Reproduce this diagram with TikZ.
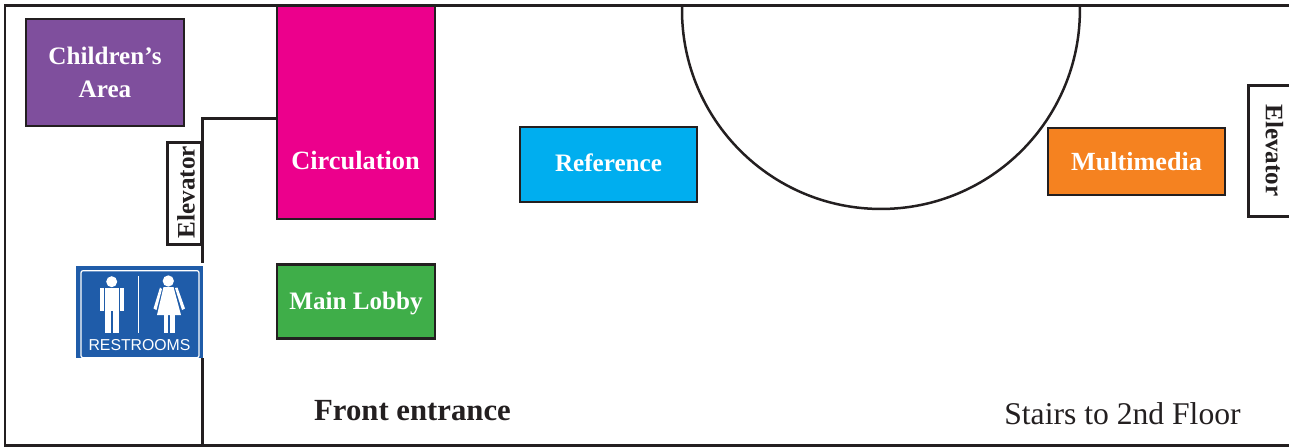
\documentclass[tikz,border=0pt]{standalone}
\usepackage{fontspec}
\setmainfont{Liberation Serif}
\newfontfamily\signfont{Liberation Sans}
\usetikzlibrary{positioning}
\definecolor{inkline}{HTML}{231F20}
\definecolor{kidspurple}{HTML}{7F4F9D}
\definecolor{circpink}{HTML}{EC008C}
\definecolor{refblue}{HTML}{00AEEF}
\definecolor{mediaorange}{HTML}{F58220}
\definecolor{lobbygreen}{HTML}{3FAE49}
\definecolor{signblue}{HTML}{1F5CA9}
\tikzset{
  x=0.02cm,
  y=-0.02cm,
  wall/.style={draw=inkline, line width=0.06cm},
  room/.style={draw=inkline, line width=0.056cm, inner sep=0pt, text=white, font=\fontsize{14.3}{18.7}\selectfont\bfseries, align=center},
  roomtext/.style={inner sep=0pt, text=white, font=\fontsize{14.3}{18.7}\selectfont\bfseries},
  lifttext/.style={inner sep=0pt, text=inkline, font=\fontsize{14.3}{18.7}\selectfont\bfseries},
  pictogram/.style={fill=white, draw=none},
}

\begin{document}
\begin{tikzpicture}
  \useasboundingbox (0,0) rectangle (1289,447);

  % rooms
  \node[room, fill=kidspurple, minimum width=3.16cm, minimum height=2.14cm] (kids) at (105,72.5) {Children’s\\Area};
  \node[room, fill=circpink, minimum width=3.16cm, minimum height=4.28cm] (circ) at (356,112) {};
  \node[roomtext, font=\fontsize{15}{18.7}\selectfont\bfseries] (circtext) at (355.5,161) {Circulation};
  \node[room, fill=lobbygreen, minimum width=3.16cm, minimum height=1.47cm, below=0.86cm of circ] (lobby) {};
  \node[roomtext] (lobbytext) at (356,303) {Main Lobby};
  \node[room, fill=refblue, minimum width=3.54cm, minimum height=1.5cm] (ref) at (608.5,164.5) {};
  \node[roomtext] (reftext) at (608.5,163) {Reference};
  \node[room, fill=mediaorange, minimum width=3.54cm, minimum height=1.34cm, font=\fontsize{14.9}{18.7}\selectfont\bfseries] (media) at (1136.5,161.5) {Multimedia};

  % elevators
  \node[wall, fill=white, inner sep=0pt, minimum width=0.7cm, minimum height=2.06cm] (liftl) at (184.5,193.5) {};
  \node[lifttext, rotate=90] (liftltext) at (186,192) {Elevator};
  \coordinate (liftrtop) at (1289,85);
  \coordinate (liftrbot) at (1289,216);
  \draw[wall] (liftrtop) -- (1248,85) -- (1248,216) -- (liftrbot);
  \node[lifttext, rotate=-90] (liftrtext) at (1274.5,150.5) {Elevator};

  % walls
  \coordinate (nw) at (5,5);
  \coordinate (ne) at (1289,5);
  \coordinate (sw) at (5,445);
  \coordinate (se) at (1289,445);
  \coordinate (bend) at (202,118);
  \coordinate (stub) at (202,263);
  \coordinate (foot) at (202,445);
  \coordinate (restfoot) at (202,358);
  \draw[wall] (ne) -- (nw) -- (sw) -- (se);
  \draw[wall] (circ.west |- bend) -- (bend) -- (stub);
  \draw[wall] (restfoot) -- (foot);

  % dome
  \coordinate (domel) at (682,5);
  \coordinate (domer) at (1080,5);
  \draw[inkline, line width=0.05cm] (domel) -- (682,10) arc[start angle=180, end angle=360, radius=3.98cm] -- (domer);

  % restrooms sign
  \node[fill=signblue, inner sep=0pt, minimum width=2.54cm, minimum height=1.84cm] (sign) at (139.5,312) {};
  \node[draw=white, line width=0.025cm, rounded corners=0.04cm, inner sep=0pt, minimum width=2.36cm, minimum height=1.74cm] (signin) at (140,314.2) {};
  \node[inner sep=0pt, text=white, font=\fontsize{9}{10}\signfont] (signtext) at (139.5,345) {RESTROOMS};
  \draw[white, line width=0.018cm] (138.7,276) -- (138.7,333);
  % man
  \fill[pictogram] (111.7,281.7) circle[radius=0.11cm];
  \fill[pictogram] (105,288) rectangle (119,311);
  \fill[pictogram] (105,311) rectangle (111,333);
  \fill[pictogram] (113,311) rectangle (119,333);
  \fill[pictogram] (100,288) rectangle (103.8,311);
  \fill[pictogram] (120.2,288) rectangle (124,311);
  % woman
  \fill[pictogram] (168.3,281) circle[radius=0.113cm];
  \fill[pictogram] (163.5,287) -- (173.5,287) -- (181,315) -- (157,315) -- cycle;
  \fill[pictogram] (163.5,315) rectangle (168.3,333);
  \fill[pictogram] (169.7,315) rectangle (175,333);
  \fill[pictogram] (160,287.5) -- (162,289) -- (156.5,310) -- (153.5,308.5) -- cycle;
  \fill[pictogram] (175,288) -- (177.5,287.5) -- (185,308.5) -- (182,310) -- cycle;

  % floor labels
  \node[inner sep=0pt, text=inkline, font=\fontsize{17.5}{20}\selectfont\bfseries] (front) at (412.5,411) {Front entrance};
  \node[inner sep=0pt, text=inkline, font=\fontsize{18}{20}\selectfont] (stairs) at (1122.5,414) {Stairs to 2nd Floor};
\end{tikzpicture}
\end{document}
